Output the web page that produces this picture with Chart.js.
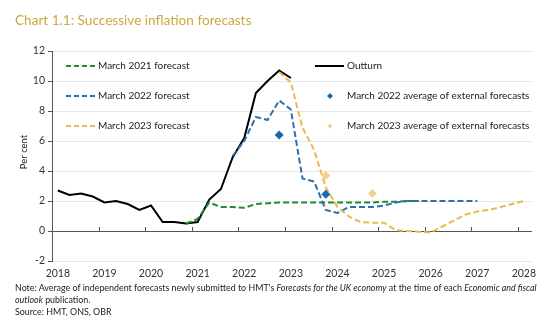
<!DOCTYPE html>
<html>
<head>
<meta charset="utf-8">
<script src="https://cdn.jsdelivr.net/npm/chart.js@4"></script>
<style>
  body { margin: 0; background: #fff; font-family: "Lato", "Noto Sans", sans-serif; }
  #wrap { position: relative; width: 550px; height: 326px; }
  #title { position: absolute; left: 15px; top: 12px; font-size: 13.6px; color: #cfa73c; }
  #note { position: absolute; left: 15px; top: 282px; font-size: 8.9px; line-height: 12px; color: #222; }
  canvas { position: absolute; left: 0; top: 0; }
</style>
</head>
<body>
<div id="wrap">
  <canvas id="chart" width="550" height="326"></canvas>
  <div id="title">Chart 1.1: Successive inflation forecasts</div>
  <div id="note">Note: Average of independent forecasts newly submitted to HMT's <i>Forecasts for the UK economy</i> at the time of each <i>Economic and fiscal<br>outlook</i> publication.<br>Source: HMT, ONS, OBR</div>
</div>
<script>
// Quarterly CPI inflation (per cent), each series listed from its first quarter
const outturnStart = "2018Q1";
const outturn = [2.7, 2.4, 2.5, 2.3, 1.9, 2.0, 1.8, 1.4, 1.7, 0.6, 0.6, 0.5, 0.6, 2.1, 2.8, 4.9,
  6.2, 9.2, 10.0, 10.7, 10.2];

const march2021Start = "2020Q4";
const march2021 = [0.5, 0.8, 1.9, 1.6, 1.6, 1.55, 1.8, 1.85, 1.9, 1.9, 1.9, 1.9, 1.9, 1.9, 1.9,
  1.9, 1.9, 1.95, 1.95, 2.0, 2.0];

const march2022Start = "2021Q4";
const march2022 = [5.0, 6.0, 7.6, 7.4, 8.7, 8.1, 3.5, 3.3, 1.4, 1.2, 1.6, 1.6, 1.6, 1.7, 1.9,
  2.0, 2.0, 2.0, 2.0, 2.0, 2.0, 2.0];

const march2023Start = "2022Q4";
const march2023 = [10.6, 9.9, 6.9, 5.4, 2.9, 1.6, 0.95, 0.6, 0.55, 0.55, 0.05, 0.0, -0.05, -0.1,
  0.3, 0.7, 1.1, 1.3, 1.4, 1.6, 1.8, 2.0];

// External forecast averages
const ext2022Quarters = ["2022Q4", "2023Q4"];
const ext2022Values = [6.4, 2.45];
const ext2023Quarters = ["2023Q4", "2024Q4"];
const ext2023Values = [3.7, 2.5];

// Axis labels
const yearLabels = [2018, 2019, 2020, 2021, 2022, 2023, 2024, 2025, 2026, 2027, 2028];

const GREEN = "#22892f";
const BLUE = "#2b70b0";
const GOLD = "#ebb94d";
const BLUE_DOT = "#1a68ad";
const GOLD_DOT = "#f4d08e";

// "2021Q3" -> position in years, centred in the quarter
function quarterToX(q) {
  const year = parseInt(q.slice(0, 4));
  const n = parseInt(q.slice(5));
  return year + (n - 0.5) / 4;
}

function toPoints(start, values) {
  const x0 = quarterToX(start);
  return values.map((v, i) => ({ x: x0 + i * 0.25, y: v }));
}

function pairPoints(quarters, values) {
  return quarters.map((q, i) => ({ x: quarterToX(q), y: values[i] }));
}

const FONT = "Lato, 'Noto Sans', sans-serif";

// Zero line with year ticks, custom legend, y-axis title
const extras = {
  id: "extras",
  beforeDatasetsDraw(chart) {
    const ctx = chart.ctx;
    const x = chart.scales.x;
    const y = chart.scales.y;
    const y0 = y.getPixelForValue(0);
    ctx.save();
    ctx.strokeStyle = "#555";
    ctx.lineWidth = 1;
    ctx.beginPath();
    ctx.moveTo(chart.chartArea.left, y0 + 0.5);
    ctx.lineTo(chart.chartArea.right, y0 + 0.5);
    yearLabels.forEach((yr) => {
      const px = Math.round(x.getPixelForValue(yr)) + 0.5;
      ctx.moveTo(px, y0);
      ctx.lineTo(px, y0 - 4);
    });
    ctx.stroke();
    ctx.restore();
  },
  afterDraw(chart) {
    const ctx = chart.ctx;
    ctx.save();
    ctx.font = "10px " + FONT;
    ctx.fillStyle = "#222";
    ctx.textBaseline = "middle";

    // left column: dashed forecasts
    const left = [
      [GREEN, "March 2021 forecast", 66],
      [BLUE, "March 2022 forecast", 96],
      [GOLD, "March 2023 forecast", 126],
    ];
    left.forEach(([c, label, ly]) => {
      ctx.strokeStyle = c;
      ctx.lineWidth = 2;
      ctx.setLineDash([5, 3]);
      ctx.beginPath();
      ctx.moveTo(66, ly);
      ctx.lineTo(97, ly);
      ctx.stroke();
      ctx.fillText(label, 98, ly);
    });

    // right column
    ctx.setLineDash([]);
    ctx.strokeStyle = "#000";
    ctx.lineWidth = 2;
    ctx.beginPath();
    ctx.moveTo(315, 66);
    ctx.lineTo(344, 66);
    ctx.stroke();
    ctx.fillText("Outturn", 347, 66);

    const right = [
      [BLUE_DOT, "March 2022 average of external forecasts", 96, 3],
      [GOLD_DOT, "March 2023 average of external forecasts", 126, 2.5],
    ];
    right.forEach(([c, label, ly, r]) => {
      ctx.fillStyle = c;
      ctx.beginPath();
      ctx.moveTo(330, ly - r);
      ctx.lineTo(330 + r, ly);
      ctx.lineTo(330, ly + r);
      ctx.lineTo(330 - r, ly);
      ctx.closePath();
      ctx.fill();
      ctx.fillStyle = "#222";
      ctx.fillText(label, 347, ly);
    });

    // y title
    ctx.translate(24, 152);
    ctx.rotate(-Math.PI / 2);
    ctx.textAlign = "center";
    ctx.font = "9.5px " + FONT;
    ctx.fillText("Per cent", 0, 0);
    ctx.restore();
  },
};

function lineSet(label, data, color, dashed) {
  return {
    type: "line",
    label: label,
    data: data,
    borderColor: color,
    borderWidth: 2,
    borderDash: dashed ? [6, 3] : [],
    pointRadius: 0,
    tension: 0,
    fill: false,
  };
}

function dotSet(label, data, color, r) {
  return {
    type: "scatter",
    label: label,
    data: data,
    pointStyle: "rectRot",
    pointRadius: r,
    backgroundColor: color,
    borderWidth: 0,
  };
}

new Chart(document.getElementById("chart"), {
  type: "line",
  data: {
    datasets: [
      dotSet("March 2022 average of external forecasts", pairPoints(ext2022Quarters, ext2022Values), BLUE_DOT, 4.5),
      dotSet("March 2023 average of external forecasts", pairPoints(ext2023Quarters, ext2023Values), GOLD_DOT, 4.5),
      lineSet("March 2023 forecast", toPoints(march2023Start, march2023), GOLD, true),
      lineSet("March 2022 forecast", toPoints(march2022Start, march2022), BLUE, true),
      lineSet("March 2021 forecast", toPoints(march2021Start, march2021), GREEN, true),
      lineSet("Outturn", toPoints(outturnStart, outturn), "#000", false),
    ],
  },
  options: {
    responsive: false,
    animation: false,
    events: [],
    layout: { padding: { top: 51, right: 18, left: 0, bottom: 0 } },
    plugins: { legend: { display: false }, tooltip: { enabled: false } },
    scales: {
      x: {
        type: "linear",
        min: 2018,
        max: 2028.3,
        afterBuildTicks: (s) => {
          s.ticks = yearLabels.map((yr) => ({ value: yr + 0.125 }));
        },
        afterFit: (s) => { s.height = 65; },
        grid: { display: false, drawTicks: false },
        border: { display: false },
        ticks: {
          padding: 6,
          maxRotation: 0,
          autoSkip: false,
          color: "#333",
          font: { family: FONT, size: 10.5 },
          callback: (v) => Math.floor(v),
        },
      },
      y: {
        min: -2,
        max: 12,
        afterFit: (s) => { s.width = 52; },
        grid: {
          color: (c) => (c.tick && c.tick.value === 0 ? "rgba(0,0,0,0)" : "#e8e8e8"),
          tickColor: "#555",
          tickLength: 4,
        },
        border: { display: true, color: "#555" },
        ticks: {
          stepSize: 2,
          padding: 3,
          color: "#333",
          font: { family: FONT, size: 10.5 },
        },
      },
    },
  },
  plugins: [extras],
});
</script>
</body>
</html>
